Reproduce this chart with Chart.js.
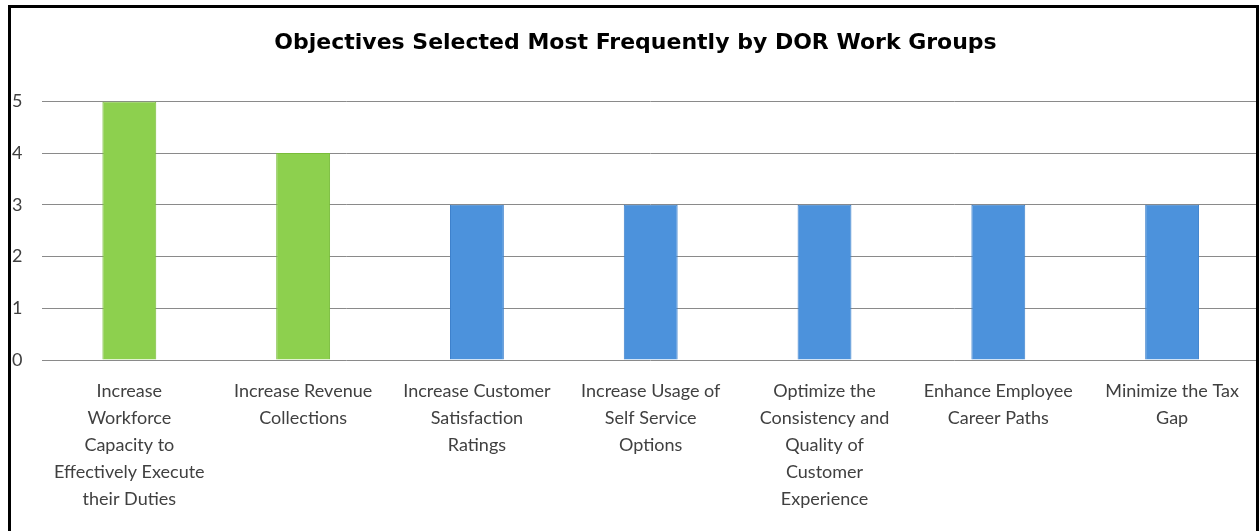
<!DOCTYPE html>
<html>
<head>
<meta charset="utf-8">
<script src="https://cdn.jsdelivr.net/npm/chart.js@4"></script>
<style>
  html, body { margin: 0; padding: 0; background: #fff; }
  #wrap { position: relative; width: 1259px; height: 531px; overflow: hidden; }
  #chart { position: absolute; left: 0; top: 0; }
  /* black frame round the chart, open at the bottom edge */
  .frame {
    position: absolute; left: 8px; top: 5px; width: 1245px; height: 540px;
    border: 3px solid #000; pointer-events: none;
  }
</style>
</head>
<body>
<div id="wrap">
  <canvas id="chart" width="1259" height="531"></canvas>
  <div class="frame"></div>
</div>
<script>
const titleText = 'Objectives Selected Most Frequently by DOR Work Groups';

const objectives = [
  ['Increase', 'Workforce', 'Capacity to', 'Effectively Execute', 'their Duties'],
  ['Increase Revenue', 'Collections'],
  ['Increase Customer', 'Satisfaction', 'Ratings'],
  ['Increase Usage of', 'Self Service', 'Options'],
  ['Optimize the', 'Consistency and', 'Quality of', 'Customer', 'Experience'],
  ['Enhance Employee', 'Career Paths'],
  ['Minimize the Tax', 'Gap']
];

const timesSelected = [5, 4, 3, 3, 3, 3, 3];

const yTicks = [0, 1, 2, 3, 4, 5];

// first two objectives are shown in green, the rest in blue
const green = '#8DD04E', greenEdge = '#79BC3A';
const blue = '#4C92DC', blueEdge = '#3E82CC';
const fills = timesSelected.map((v, i) => i < 2 ? green : blue);
const edges = timesSelected.map((v, i) => i < 2 ? greenEdge : blueEdge);

const labelFont = "Lato, 'Open Sans', sans-serif";

new Chart(document.getElementById('chart'), {
  type: 'bar',
  data: {
    labels: objectives,
    datasets: [{
      data: timesSelected,
      backgroundColor: fills,
      borderColor: edges,
      borderWidth: 1,
      categoryPercentage: 1,
      barPercentage: 0.31
    }]
  },
  options: {
    responsive: false,
    animation: false,
    layout: { padding: { left: 12, right: 0, top: 0, bottom: 8 } },
    plugins: {
      legend: { display: false },
      tooltip: { enabled: false },
      title: {
        display: true,
        text: titleText,
        color: '#000',
        font: { family: "'DejaVu Sans', Verdana, sans-serif", size: 22, weight: 'bold' },
        padding: { top: 30, bottom: 45 }
      }
    },
    scales: {
      x: {
        grid: { display: false },
        border: { display: false },
        ticks: {
          autoSkip: false,
          maxRotation: 0,
          minRotation: 0,
          padding: 10,
          color: '#404040',
          font: { family: labelFont, size: 18, lineHeight: 1.5 }
        }
      },
      y: {
        min: 0,
        max: 5,
        afterBuildTicks: axis => { axis.ticks = yTicks.map(v => ({ value: v })); },
        grid: { color: '#8A8A8A', lineWidth: 1, drawTicks: false },
        border: { display: false },
        ticks: {
          crossAlign: 'far',
          padding: 10,
          color: '#404040',
          font: { family: labelFont, size: 18 }
        }
      }
    }
  }
});
</script>
</body>
</html>
